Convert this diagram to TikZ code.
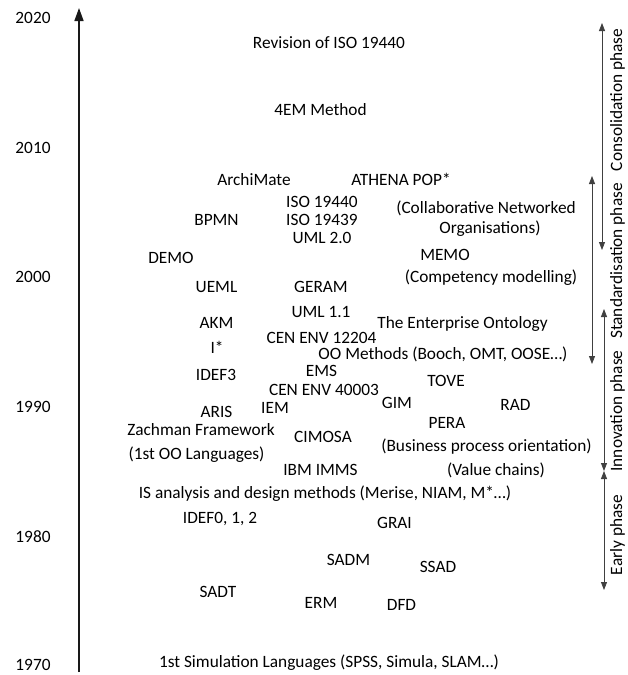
\documentclass[tikz,border=0pt]{standalone}
\usepackage{fontspec}
\setmainfont{Carlito}
\usetikzlibrary{arrows.meta}
\begin{document}
\begin{tikzpicture}[x=1pt,y=-1pt,
  item/.style={font=\fontsize{17.3}{20}\selectfont, inner sep=0pt, anchor=base, text=black},
  year/.style={item},
  phase/.style={item, rotate=90},
  axisline/.style={line width=1.6pt, draw=black!90, -{Triangle[length=13pt,width=9pt]}},
  span/.style={line width=0.8pt, draw=black!75,
    {Triangle[length=8pt,width=6pt]}-{Triangle[length=8pt,width=6pt]}}]
\useasboundingbox[fill=white] (0,0) rectangle (627,675);

% time axis
\coordinate (axisbot) at (79,672);
\coordinate (axistop) at (79,8);
\draw[axisline] (axisbot) -- (axistop);

% years
\node[year] (y2020) at (33,23) {2020};
\node[year] (y2010) at (33,153) {2010};
\node[year] (y2000) at (33,282) {2000};
\node[year] (y1990) at (33,412) {1990};
\node[year] (y1980) at (33,542) {1980};
\node[year] (y1970) at (33,670) {1970};

% methods, languages and standards
\node[item] (rev)    at (329,48)  {Revision of ISO 19440};
\node[item] (fourem) at (320.5,115) {4EM Method};
\node[item] (archi)  at (254,185) {ArchiMate};
\node[item] (athena) at (401,185) {ATHENA POP*};
\node[item] (iso40)  at (322,207) {ISO 19440};
\node[item] (collab) at (486,213) {(Collaborative Networked};
\node[item] (bpmn)   at (216.5,225) {BPMN};
\node[item] (iso39)  at (322,225) {ISO 19439};
\node[item] (orgs)   at (490,233) {Organisations)};
\node[item] (uml20)  at (322,243) {UML 2.0};
\node[item] (memo)   at (445,260) {MEMO};
\node[item] (demo)   at (171,263) {DEMO};
\node[item] (compet) at (491,282) {(Competency modelling)};
\node[item] (ueml)   at (216.5,292) {UEML};
\node[item] (geram)  at (321,292) {GERAM};
\node[item] (uml11)  at (321,317) {UML 1.1};
\node[item] (akm)    at (216.5,328) {AKM};
\node[item] (ontol)  at (462.5,328) {The Enterprise Ontology};
\node[item] (cen12)  at (321.5,343) {CEN ENV 12204};
\node[item] (istar)  at (217,353) {I*};
\node[item] (oometh) at (443,359) {OO Methods (Booch, OMT, OOSE…)};
\node[item] (ems)    at (321.5,376) {EMS};
\node[item] (idef3)  at (216,380) {IDEF3};
\node[item] (tove)   at (446,386) {TOVE};
\node[item] (cen40)  at (324,395) {CEN ENV 40003};
\node[item] (gim)    at (397,408) {GIM};
\node[item] (rad)    at (515.5,410) {RAD};
\node[item] (iem)    at (275,413) {IEM};
\node[item] (aris)   at (216.5,417) {ARIS};
\node[item] (pera)   at (447,428) {PERA};
\node[item] (zach)   at (201,435) {Zachman Framework};
\node[item] (cimosa) at (323,442) {CIMOSA};
\node[item] (bpo)    at (486.5,451) {(Business process orientation)};
\node[item] (oolang) at (196.5,459) {(1st OO Languages)};
\node[item] (imms)   at (320.5,475) {IBM IMMS};
\node[item] (value)  at (496,475) {(Value chains)};
\node[item] (isad)   at (325,498) {IS analysis and design methods (Merise, NIAM, M*…)};
\node[item] (idef0)  at (220,523) {IDEF0, 1, 2};
\node[item] (grai)   at (394.5,528) {GRAI};
\node[item] (sadm)   at (348.5,565) {SADM};
\node[item] (ssad)   at (438,572) {SSAD};
\node[item] (sadt)   at (218,597) {SADT};
\node[item] (erm)    at (321,608) {ERM};
\node[item] (dfd)    at (401.5,610) {DFD};
\node[item] (simul)  at (329,667) {1st Simulation Languages (SPSS, Simula, SLAM…)};

% phase spans
\coordinate (consTop) at (602,23);
\coordinate (consBot) at (602,250);
\coordinate (stdTop)  at (592,176);
\coordinate (stdBot)  at (592,364);
\coordinate (innTop)  at (604,309);
\coordinate (innBot)  at (604,471);
\coordinate (earTop)  at (604,471);
\coordinate (earBot)  at (604,590);
\draw[span] (consBot) -- (consTop);
\draw[span] (stdBot) -- (stdTop);
\draw[span] (innBot) -- (innTop);
\draw[span] (earBot) -- (earTop);

\node[phase] (pcons) at (622,100) {Consolidation phase};
\node[phase] (pstd)  at (622,261) {Standardisation phase};
\node[phase] (pinn)  at (622,411) {Innovation phase};
\node[phase] (pear)  at (622,535) {Early phase};
\end{tikzpicture}
\end{document}
